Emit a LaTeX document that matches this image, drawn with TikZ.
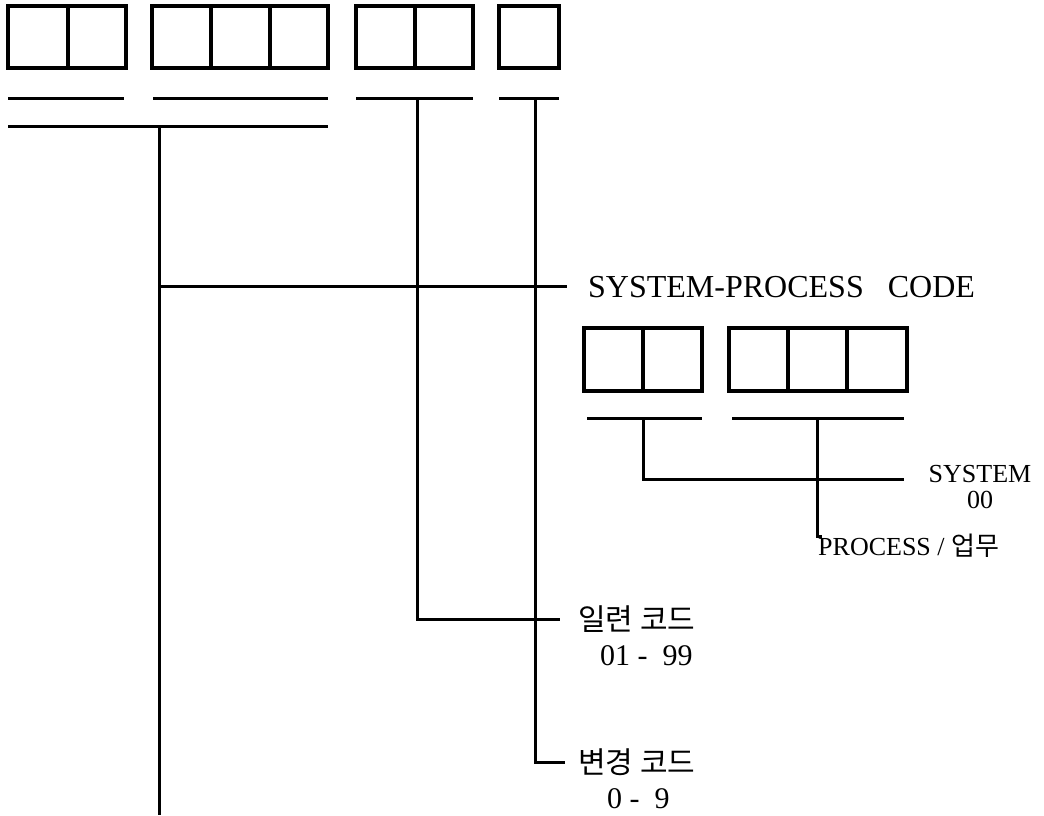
\documentclass[tikz,border=0pt]{standalone}
\usepackage{fontspec}
\setmainfont{Liberation Serif}
\newfontfamily\kr{Noto Sans CJK KR}
\begin{document}
\begin{tikzpicture}[x=1pt,y=-1pt,line join=miter,
  cell/.style={draw,line width=3.3pt,inner sep=0pt},
  topcell/.style={cell,minimum height=62pt},
  midcell/.style={cell,minimum height=63pt},
  bar/.style={line width=3pt},
  conn/.style={line width=3pt},
  big/.style={inner sep=0pt,font=\fontsize{32}{34}\selectfont},
  mid/.style={inner sep=0pt,font=\fontsize{26}{28}\selectfont},
  lbl/.style={inner sep=0pt,font=\fontsize{30}{32}\selectfont}]
\useasboundingbox (0,0) rectangle (1044,816);

% top cells
\node[topcell,minimum width=60pt] (t11) at (38,37) {};
\node[topcell,minimum width=58pt] (t12) at (97,37) {};
\node[topcell,minimum width=59pt] (t21) at (181.5,37) {};
\node[topcell,minimum width=59pt] (t22) at (240.5,37) {};
\node[topcell,minimum width=58pt] (t23) at (299,37) {};
\node[topcell,minimum width=59pt] (t31) at (385.5,37) {};
\node[topcell,minimum width=58pt] (t32) at (444,37) {};
\node[topcell,minimum width=60pt] (t41) at (529,37) {};

% top bars
\draw[bar] (8,98) -- (124,98);
\draw[bar] (153,98) -- (328,98);
\draw[bar] (356,98) -- (473,98);
\draw[bar] (499,98) -- (559,98);
\draw[bar] (8,126) -- (328,126);

% middle cells
\node[midcell,minimum width=59pt] (m11) at (613.5,359.5) {};
\node[midcell,minimum width=59pt] (m12) at (672.5,359.5) {};
\node[midcell,minimum width=59pt] (m21) at (758.5,359.5) {};
\node[midcell,minimum width=59pt] (m22) at (817.5,359.5) {};
\node[midcell,minimum width=60pt] (m23) at (877,359.5) {};

% middle bars
\draw[bar] (587,418) -- (702,418);
\draw[bar] (732,418) -- (904,418);

% labels
\node[big,anchor=base west] (spc) at (588,297) {SYSTEM-PROCESS\ \ \ CODE};
\node[mid,anchor=base] (sys) at (980,482) {SYSTEM};
\node[mid,anchor=base] (sys0) at (980,508) {00};
\node[mid,anchor=base west] (proc) at (818,555) {PROCESS / {\kr 업무}};
\node[lbl,anchor=west] (ser) at (578,619) {\kr 일련 코드};
\node[lbl,anchor=base west] (ser0) at (600,665) {01 -\ \ 99};
\node[lbl,anchor=west] (chg) at (578,762) {\kr 변경 코드};
\node[lbl,anchor=base west] (chg0) at (607,808) {0 -\ \ 9};

% connector coordinates
\coordinate (a1) at (159,126);
\coordinate (a2) at (159,815);
\coordinate (a3) at (159,286);
\coordinate (a4) at (567,286);
\coordinate (b1) at (417,98);
\coordinate (b2) at (560,619);
\coordinate (c1) at (535,98);
\coordinate (c2) at (565,762);
\coordinate (d1) at (643,418);
\coordinate (d2) at (904,479);
\coordinate (e1) at (817,418);
\coordinate (e2) at (822,536);

\draw[conn] (a1) -- (a2);
\draw[conn] (a3) -- (a4);
\draw[conn] (b1) |- (b2);
\draw[conn] (c1) |- (c2);
\draw[conn] (d1) |- (d2);
\draw[conn] (e1) |- (e2);
\end{tikzpicture}
\end{document}
